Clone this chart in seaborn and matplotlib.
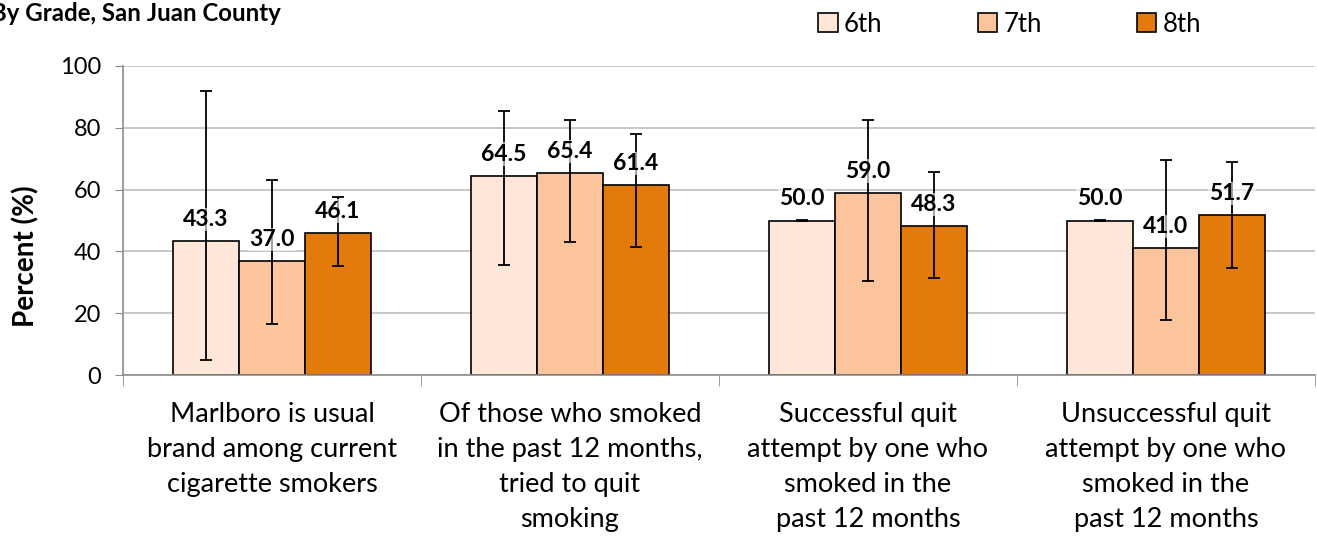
import pandas as pd
import numpy as np
import matplotlib
matplotlib.use("Agg")
import matplotlib.pyplot as plt
import seaborn as sns

# =====================================================
# DATA
# =====================================================

categories = [
    "Marlboro is usual\nbrand among current\ncigarette smokers",
    "Of those who smoked\nin the past 12 months,\ntried to quit\nsmoking",
    "Successful quit\nattempt by one who\nsmoked in the\npast 12 months",
    "Unsuccessful quit\nattempt by one who\nsmoked in the\npast 12 months",
]

grades = ["6th", "7th", "8th"]

pct_6th = [43.3, 64.5, 50.0, 50.0]
pct_7th = [37.0, 65.4, 59.0, 41.0]
pct_8th = [46.1, 61.4, 48.3, 51.7]

low_6th = [5.0, 35.5, 49.8, 49.8]
low_7th = [16.7, 43.0, 30.4, 17.8]
low_8th = [35.3, 41.4, 31.4, 34.6]

high_6th = [91.9, 85.5, 50.2, 50.2]
high_7th = [63.1, 82.6, 82.5, 69.6]
high_8th = [57.6, 78.0, 65.7, 68.9]

colors = ["#FEE6D9", "#FCC49C", "#E27B0C"]

# =====================================================
# LONG TABLE
# =====================================================

rows = []
for g, vals, lo, hi in zip(
    grades,
    [pct_6th, pct_7th, pct_8th],
    [low_6th, low_7th, low_8th],
    [high_6th, high_7th, high_8th],
):
    for c, v, l, h in zip(categories, vals, lo, hi):
        rows.append({"category": c, "grade": g, "pct": v, "low": l, "high": h})

df = pd.DataFrame(rows)

# =====================================================
# PLOT
# =====================================================

sns.set_style("white")
plt.rcParams["font.family"] = ["Lato", "DejaVu Sans"]
plt.rcParams["text.color"] = "black"
plt.rcParams["axes.labelcolor"] = "black"
plt.rcParams["xtick.color"] = "black"
plt.rcParams["ytick.color"] = "black"

fig = plt.figure(figsize=(13.17, 5.36), dpi=100)
ax = fig.add_axes([0.0934, 0.3, 0.905, 0.577])

sns.barplot(
    data=df,
    x="category",
    y="pct",
    hue="grade",
    palette=colors,
    saturation=1,
    edgecolor="black",
    linewidth=1.2,
    width=0.665,
    gap=0,
    errorbar=None,
    ax=ax,
    zorder=2,
)

for cont, g in zip(ax.containers, grades):
    sub = df[df["grade"] == g]
    for bar, (_, r) in zip(cont, sub.iterrows()):
        cx = bar.get_x() + bar.get_width() / 2
        ax.errorbar(
            cx, r["pct"],
            yerr=[[r["pct"] - r["low"]], [r["high"] - r["pct"]]],
            fmt="none", ecolor="black", elinewidth=1.3,
            capsize=4, capthick=1.3, zorder=3,
        )
        ax.annotate(
            f"{r['pct']:.1f}", (cx, r["pct"]),
            xytext=(0, 8), textcoords="offset points",
            ha="center", va="bottom", fontsize=16.5, fontweight="bold",
            bbox=dict(boxstyle="square,pad=0.05", fc="white", ec="none", alpha=0.6),
            zorder=4,
        )

ax.set_ylim(0, 100)
ax.set_yticks([0, 20, 40, 60, 80, 100])
ax.set_xlim(-0.5, 3.5)
ax.yaxis.grid(True, color="#BFBFBF", linewidth=1.2, zorder=0)
ax.set_axisbelow(True)

for s in ["top", "right"]:
    ax.spines[s].set_visible(False)
for s in ["left", "bottom"]:
    ax.spines[s].set_color("#8C8C8C")
    ax.spines[s].set_linewidth(1.2)

ax.tick_params(axis="y", labelsize=17, length=6, color="#8C8C8C", left=True, pad=10)
ax.tick_params(axis="x", labelsize=19.5, length=0, pad=19)
for lbl in ax.get_xticklabels():
    lbl.set_linespacing(1.5)
ax.set_xticks(np.arange(-0.5, 4, 1), minor=True)
ax.tick_params(axis="x", which="minor", length=8, color="#8C8C8C", bottom=True)

ax.set_xlabel("")
ax.set_ylabel("Percent (%)", fontsize=20, fontweight="bold")
ax.yaxis.set_label_coords(-0.070, 0.385)

leg = ax.legend(
    loc="upper left",
    bbox_to_anchor=(0.564, 1.25),
    ncol=3,
    frameon=False,
    fontsize=18.5,
    handlelength=0.75,
    handleheight=0.75,
    handletextpad=0.25,
    columnspacing=3.7,
)
for h in leg.legend_handles:
    h.set_edgecolor("black")
    h.set_linewidth(1.2)

fig.text(-0.007, 0.961, "By Grade, San Juan County", fontsize=17.3, fontweight="bold",
         ha="left", va="baseline")

fig.savefig("out.png", dpi=100)
plt.close()
